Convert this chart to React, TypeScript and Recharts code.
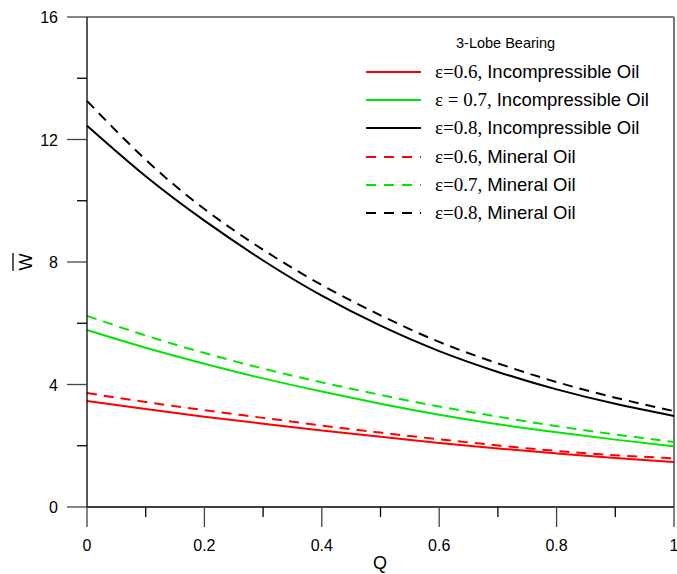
import React from 'react';
import { LineChart, Line, XAxis, YAxis, ReferenceLine } from 'recharts';

const Q = [0, 0.1, 0.2, 0.3, 0.4, 0.5, 0.6, 0.7, 0.8, 0.9, 1];

const inc06 = [3.46, 3.2, 2.95, 2.72, 2.5, 2.29, 2.09, 1.91, 1.75, 1.6, 1.47];
const inc07 = [5.78, 5.2, 4.68, 4.2, 3.77, 3.37, 3.01, 2.7, 2.44, 2.2, 1.98];
const inc08 = [12.45, 10.8, 9.35, 8.05, 6.9, 5.92, 5.09, 4.41, 3.84, 3.37, 2.97];
const min06 = [3.72, 3.43, 3.16, 2.91, 2.66, 2.43, 2.21, 2.01, 1.83, 1.69, 1.59];
const min07 = [6.24, 5.6, 5.03, 4.52, 4.07, 3.66, 3.28, 2.95, 2.64, 2.37, 2.12];
const min08 = [13.26, 11.34, 9.73, 8.4, 7.25, 6.26, 5.39, 4.69, 4.08, 3.57, 3.13];

const xTicks = [0, 0.1, 0.2, 0.3, 0.4, 0.5, 0.6, 0.7, 0.8, 0.9, 1];
const yTicks = [0, 2, 4, 6, 8, 10, 12, 14, 16];

const legendTitle = '3-Lobe Bearing';

const series = [
  { key: 'inc06', values: inc06, color: '#ff0000', dashed: false, eps: 'ε=0.6,', label: 'Incompressible Oil' },
  { key: 'inc07', values: inc07, color: '#00e600', dashed: false, eps: 'ε = 0.7,', label: 'Incompressible Oil' },
  { key: 'inc08', values: inc08, color: '#000000', dashed: false, eps: 'ε=0.8,', label: 'Incompressible Oil' },
  { key: 'min06', values: min06, color: '#ff0000', dashed: true, eps: 'ε=0.6,', label: 'Mineral Oil' },
  { key: 'min07', values: min07, color: '#00e600', dashed: true, eps: 'ε=0.7,', label: 'Mineral Oil' },
  { key: 'min08', values: min08, color: '#000000', dashed: true, eps: 'ε=0.8,', label: 'Mineral Oil' },
];

const data = Q.map((q, i) => {
  const row: Record<string, number> = { q };
  series.forEach((s) => {
    row[s.key] = s.values[i];
  });
  return row;
});

const SANS = '"Liberation Sans", Arial, sans-serif';
const SERIF = '"Liberation Serif", "Times New Roman", serif';

const XTick = (props: any) => {
  const { x, y, payload } = props;
  const v = payload.value;
  const major = Math.abs(v * 5 - Math.round(v * 5)) < 1e-6;
  return (
    <g>
      <line x1={x} x2={x} y1={y} y2={y + (major ? 20 : 10)} stroke={major ? '#444' : '#000'} strokeWidth={1.3} />
      {major && (
        <text x={x} y={y + 44} textAnchor="middle" fontSize={16} fontFamily={SANS} fill="#000">
          {String(v)}
        </text>
      )}
    </g>
  );
};

const YTick = (props: any) => {
  const { x, y, payload } = props;
  const v = payload.value;
  const major = v % 4 === 0;
  return (
    <g>
      <line x1={x - (major ? 20 : 10)} x2={x} y1={y} y2={y} stroke={major ? '#444' : '#000'} strokeWidth={1.3} />
      {major && (
        <text x={x - 29} y={y + 6} textAnchor="end" fontSize={16} fontFamily={SANS} fill="#000">
          {String(v)}
        </text>
      )}
    </g>
  );
};

const WLabel = () => (
  <g transform="translate(32,262) rotate(-90)">
    <text x={0} y={0} textAnchor="middle" fontSize={18} fontFamily={SANS} fill="#000">
      W
    </text>
    <line x1={-9} x2={9} y1={-19} y2={-19} stroke="#000" strokeWidth={1.3} />
  </g>
);

const QLabel = () => (
  <text x={380} y={569} textAnchor="middle" fontSize={18} fontFamily={SANS} fill="#000">
    Q
  </text>
);

const ChartLegend = () => (
  <div style={{ position: 'absolute', left: 366, top: 34, width: 300 }}>
    <div style={{ position: 'absolute', left: 90, top: 1, fontFamily: SANS, fontSize: 14.5, whiteSpace: 'nowrap' }}>
      {legendTitle}
    </div>
    {series.map((s, i) => (
      <div
        key={s.key}
        style={{
          position: 'absolute',
          left: 0,
          top: 24 + i * 28.2,
          height: 28,
          display: 'flex',
          alignItems: 'center',
          whiteSpace: 'nowrap',
        }}
      >
        <svg width={55} height={4} style={{ display: 'block' }}>
          <line x1={0} x2={55} y1={2} y2={2} stroke={s.color} strokeWidth={2} strokeDasharray={s.dashed ? '10 8' : undefined} />
        </svg>
        <span style={{ marginLeft: 14, fontFamily: SERIF, fontSize: 19 }}>{s.eps}</span>
        <span style={{ marginLeft: 5, fontFamily: SANS, fontSize: 18.5 }}>{s.label}</span>
      </div>
    ))}
  </div>
);

const App: React.FC = () => (
  <div style={{ position: 'absolute', left: 0, top: 0, width: 677, height: 574, background: '#fff' }}>
    <LineChart width={677} height={574} data={data} margin={{ top: 17, right: 3, left: 0, bottom: 0 }}>
      <XAxis
        dataKey="q"
        type="number"
        domain={[0, 1]}
        ticks={xTicks}
        interval={0}
        tickSize={0}
        tickMargin={0}
        tickLine={false}
        height={67}
        axisLine={{ stroke: '#000', strokeWidth: 1.3 }}
        tick={<XTick />}
        label={<QLabel />}
      />
      <YAxis
        type="number"
        domain={[0, 16]}
        ticks={yTicks}
        interval={0}
        tickSize={0}
        tickMargin={0}
        tickLine={false}
        width={87}
        allowDataOverflow
        axisLine={{ stroke: '#000', strokeWidth: 1.3 }}
        tick={<YTick />}
        label={<WLabel />}
      />
      <ReferenceLine y={16} stroke="#555" strokeWidth={1.3} />
      <ReferenceLine x={1} stroke="#777" strokeWidth={2} />
      {series.map((s) => (
        <Line
          key={s.key}
          type="natural"
          dataKey={s.key}
          stroke={s.color}
          strokeWidth={2}
          strokeDasharray={s.dashed ? '10 7' : undefined}
          dot={false}
          activeDot={false}
          isAnimationActive={false}
        />
      ))}
    </LineChart>
    <ChartLegend />
  </div>
);

export default App;
